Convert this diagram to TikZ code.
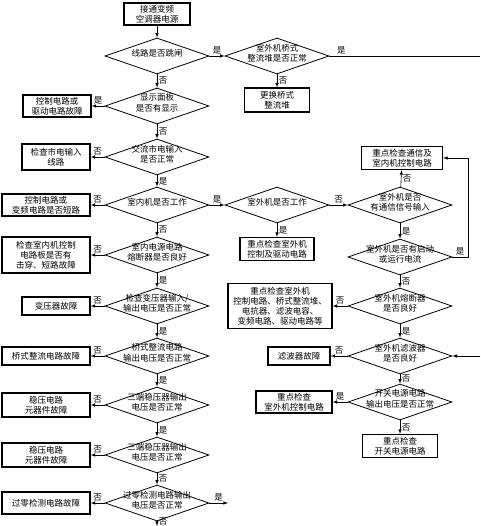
\documentclass[tikz,border=0pt]{standalone}
\usepackage{fontspec}
\setmainfont{Noto Sans CJK SC}
\usetikzlibrary{shapes.geometric}
\newcommand{\dtxt}[1]{\smash{\makebox[0pt]{\begin{tabular}[c]{@{}c@{}}#1\end{tabular}}}}

\begin{document}
\begin{tikzpicture}[x=1pt,y=-1pt,
  font=\fontsize{8.5}{10}\selectfont,
  box/.style={draw,line width=1.1pt,align=center,inner sep=1pt},
  test/.style={diamond,draw,line width=0.8pt,minimum width=104pt,minimum height=36pt,inner sep=0pt},
  flow/.style={->,>=latex,line width=0.6pt},
  lab/.style={inner sep=1.5pt}]
\useasboundingbox (0,0) rectangle (480,526);

\node[box,minimum width=66pt,minimum height=22pt] (start) at (157,14) {接通变频\\空调器电源};
\node[test] (trip) at (157,56) {\dtxt{线路是否跳闸}};
\node[test] (bridge) at (277,56) {\dtxt{室外机桥式\\整流堆是否正常}};
\node[box,minimum width=65pt,minimum height=24pt] (newbr) at (277,100) {更换桥式\\整流堆};
\coordinate (topout) at (480,56);

\node[test] (disp) at (157,106) {\dtxt{显示面板\\是否有显示}};
\node[box,minimum width=68pt,minimum height=22pt] (drvf) at (57,106) {控制电路或\\驱动电路故障};
\node[test] (mains) at (157,157) {\dtxt{交流市电输入\\是否正常}};
\node[box,minimum width=68pt,minimum height=26pt] (mainsbox) at (56,157) {检查市电输入\\线路};
\node[test] (indoor) at (157,205) {\dtxt{室内机是否工作}};
\node[box,minimum width=88pt,minimum height=22pt] (shortbox) at (46,205) {控制电路或\\变频电路是否短路};
\node[test] (infuse) at (157,255) {\dtxt{室内电源电路\\熔断器是否良好}};
\node[box,minimum width=88pt,minimum height=36pt] (inbox) at (46,255) {检查室内机控制\\电路板是否有\\击穿、短路故障};
\node[test] (trans) at (157,306) {\dtxt{检查变压器输入/\\输出电压是否正常}};
\node[box,minimum width=68pt,minimum height=18pt] (transbox) at (56,306) {变压器故障};
\node[test] (rect) at (157,356) {\dtxt{桥式整流电路\\输出电压是否正常}};
\node[box,minimum width=88pt,minimum height=18pt] (rectbox) at (46,356) {桥式整流电路故障};
\node[test] (regA) at (157,405) {\dtxt{三端稳压器输出\\电压是否正常}};
\node[box,minimum width=88pt,minimum height=24pt] (regAbox) at (46,405) {稳压电路\\元器件故障};
\node[test] (regB) at (157,455) {\dtxt{三端稳压器输出\\电压是否正常}};
\node[box,minimum width=88pt,minimum height=24pt] (regBbox) at (46,455) {稳压电路\\元器件故障};
\node[test] (zero) at (157,503) {\dtxt{过零检测电路输出\\电压是否正常}};
\node[box,minimum width=88pt,minimum height=22pt] (zerobox) at (46,503) {过零检测电路故障};
\coordinate (zeroyes) at (228,503);
\coordinate (zerono) at (157,526);

\node[test] (outdoor) at (277,205) {\dtxt{室外机是否工作}};
\node[box,minimum width=74pt,minimum height=23pt] (drvbox) at (277,249) {重点检查室外机\\控制及驱动电路};
\node[test] (comm) at (400,205) {\dtxt{室外机是否\\有通信信号输入}};
\node[box,minimum width=81pt,minimum height=23pt] (commbox) at (402,158) {重点检查通信及\\室内机控制电路};
\node[test] (run) at (400,257) {\dtxt{室外机是否有启动\\或运行电流}};
\coordinate (runup) at (468,257);
\node[test] (ofuse) at (400,306) {\dtxt{室外机熔断器\\是否良好}};
\node[box,minimum width=104pt,minimum height=45pt] (bigbox) at (280,306) {重点检查室外机\\控制电路、桥式整流堆、\\电抗器、滤波电容、\\变频电路、驱动电路等};
\node[test] (filt) at (400,356) {\dtxt{室外机滤波器\\是否良好}};
\node[box,minimum width=62pt,minimum height=18pt] (filtbox) at (299,356) {滤波器故障};
\coordinate (filtin) at (480,356);
\node[test] (smps) at (400,402) {\dtxt{开关电源电路\\输出电压是否正常}};
\node[box,minimum width=76pt,minimum height=22pt] (ctlbox) at (294,402) {重点检查\\室外机控制电路};
\node[box,minimum width=75pt,minimum height=23pt] (smpsbox) at (400,446) {重点检查\\开关电源电路};

\draw[flow] (start) -- (trip);
\draw[flow] (trip) -- node[lab,above]{是} (bridge);
\draw[line width=0.6pt] (bridge.east) -- node[lab,above,pos=0.08]{是} (topout);
\draw[flow] (bridge) -- node[lab,right]{否} (newbr);
\draw[flow] (trip) -- node[lab,right]{否} (disp);
\draw[flow] (disp) -- node[lab,above]{是} (drvf);
\draw[flow] (disp) -- node[lab,right]{否} (mains);
\draw[flow] (mains) -- node[lab,above]{否} (mainsbox);
\draw[flow] (mains) -- node[lab,right]{是} (indoor);
\draw[flow] (indoor) -- node[lab,above]{否} (shortbox);
\draw[flow] (indoor) -- node[lab,above]{是} (outdoor);
\draw[flow] (indoor) -- node[lab,right]{否} (infuse);
\draw[flow] (infuse) -- node[lab,above]{否} (inbox);
\draw[flow] (infuse) -- node[lab,right]{是} (trans);
\draw[flow] (trans) -- node[lab,above]{否} (transbox);
\draw[flow] (trans) -- node[lab,right]{是} (rect);
\draw[flow] (rect) -- node[lab,above]{否} (rectbox);
\draw[flow] (rect) -- node[lab,right]{是} (regA);
\draw[flow] (regA) -- node[lab,above]{否} (regAbox);
\draw[flow] (regA) -- node[lab,right]{是} (regB);
\draw[flow] (regB) -- node[lab,above]{否} (regBbox);
\draw[flow] (regB) -- node[lab,right]{否} (zero);
\draw[flow] (zero) -- node[lab,above]{否} (zerobox);
\draw[flow] (zero.east) -- node[lab,above]{是} (zeroyes);
\draw[flow] (zero.south) -- node[lab,anchor=west,pos=0]{否} (zerono);

\draw[flow] (outdoor) -- node[lab,right]{是} (drvbox);
\draw[flow] (outdoor) -- node[lab,above]{否} (comm);
\draw[flow] (comm) -- node[lab,right]{否} (commbox);
\draw[flow] (comm) -- node[lab,right]{是} (run);
\draw[flow] (run.east) -- node[lab,above]{是} (runup) |- (commbox.east);
\draw[flow] (run) -- node[lab,right]{否} (ofuse);
\draw[flow] (ofuse) -- node[lab,above]{否} (bigbox);
\draw[flow] (ofuse) -- node[lab,right]{是} (filt);
\draw[flow] (filt) -- node[lab,above]{否} (filtbox);
\draw[flow] (filtin) -- (filt.east);
\draw[flow] (filt) -- node[lab,right]{否} (smps);
\draw[flow] (smps) -- node[lab,above]{是} (ctlbox);
\draw[flow] (smps) -- node[lab,right]{否} (smpsbox);
\end{tikzpicture}
\end{document}
